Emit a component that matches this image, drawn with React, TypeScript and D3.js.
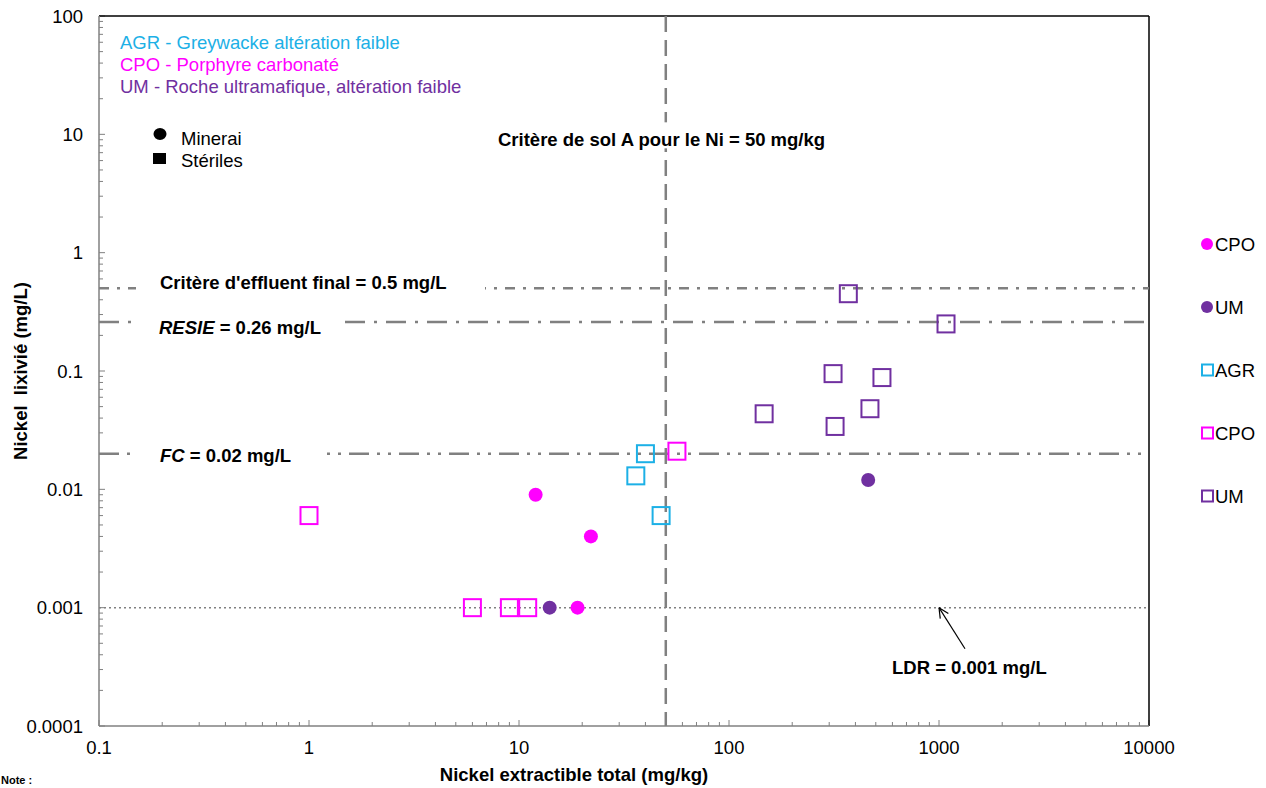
import React, { useRef, useEffect } from 'react';
import * as d3 from 'd3';

// Données
const xTickValues = [0.1, 1, 10, 100, 1000, 10000];
const xTickLabels = ['0.1', '1', '10', '100', '1000', '10000'];
const yTickValues = [0.0001, 0.001, 0.01, 0.1, 1, 10, 100];
const yTickLabels = ['0.0001', '0.001', '0.01', '0.1', '1', '10', '100'];

// Minerai (cercles)
const cpoMineraiX = [12, 22, 19];
const cpoMineraiY = [0.009, 0.004, 0.001];
const umMineraiX = [14, 460];
const umMineraiY = [0.001, 0.012];

// Stériles (carrés)
const agrSterileX = [40, 36, 47.5];
const agrSterileY = [0.02, 0.013, 0.006];
const cpoSterileX = [56.5, 1, 6, 9, 11];
const cpoSterileY = [0.021, 0.006, 0.001, 0.001, 0.001];
const umSterileX = [370, 1080, 313, 535, 147, 469, 320];
const umSterileY = [0.45, 0.25, 0.095, 0.088, 0.0435, 0.048, 0.034];

const legendNames = ['CPO', 'UM', 'AGR', 'CPO', 'UM'];
const legendShapes = ['circle', 'circle', 'square', 'square', 'square'];

const C_AGR = '#1CB0E6';
const C_CPO = '#FF00FF';
const C_UM = '#7030A0';
const legendColors = [C_CPO, C_UM, C_AGR, C_CPO, C_UM];

const FONT = "Arial, 'Liberation Sans', sans-serif";
const FS = 18.5;

const draw = (svgRef) => {
     const svg = d3.select(svgRef.current);
     svg.selectAll('*').remove();

     const margin = { left: 99, right: 1149, top: 16, bottom: 726 };

     const xScale = d3.scaleLog().domain([0.1, 10000]).range([margin.left, margin.right]);
     const yScale = d3.scaleLog().domain([0.0001, 100]).range([margin.bottom, margin.top]);

     const g = svg.append('g');

     // Ticks mineurs + majeurs (vers l'intérieur)
     const minorX = [];
     for (let e = -1; e < 4; e++) for (let k = 2; k < 10; k++) minorX.push(k * Math.pow(10, e));
     const minorY = [];
     for (let e = -4; e < 2; e++) for (let k = 2; k < 10; k++) minorY.push(k * Math.pow(10, e));

     g.selectAll('.mx').data(minorX).enter().append('line')
          .attr('x1', d => xScale(d)).attr('x2', d => xScale(d))
          .attr('y1', margin.bottom).attr('y2', margin.bottom - 4)
          .attr('stroke', '#808080').attr('stroke-width', 1);
     g.selectAll('.Mx').data(xTickValues).enter().append('line')
          .attr('x1', d => xScale(d)).attr('x2', d => xScale(d))
          .attr('y1', margin.bottom).attr('y2', margin.bottom - 6)
          .attr('stroke', '#808080').attr('stroke-width', 1);
     g.selectAll('.my').data(minorY).enter().append('line')
          .attr('y1', d => yScale(d)).attr('y2', d => yScale(d))
          .attr('x1', margin.left).attr('x2', margin.left + 4)
          .attr('stroke', '#808080').attr('stroke-width', 1);
     g.selectAll('.My').data(yTickValues).enter().append('line')
          .attr('y1', d => yScale(d)).attr('y2', d => yScale(d))
          .attr('x1', margin.left).attr('x2', margin.left + 6)
          .attr('stroke', '#808080').attr('stroke-width', 1);

     // Cadre
     g.append('line').attr('x1', margin.left).attr('x2', margin.right)
          .attr('y1', margin.top).attr('y2', margin.top).attr('stroke', '#000').attr('stroke-width', 1.5);
     g.append('line').attr('x1', margin.right).attr('x2', margin.right)
          .attr('y1', margin.top).attr('y2', margin.bottom).attr('stroke', '#000').attr('stroke-width', 1.5);
     g.append('line').attr('x1', margin.left).attr('x2', margin.left)
          .attr('y1', margin.top).attr('y2', margin.bottom).attr('stroke', '#808080').attr('stroke-width', 1.5);
     g.append('line').attr('x1', margin.left).attr('x2', margin.right)
          .attr('y1', margin.bottom).attr('y2', margin.bottom).attr('stroke', '#808080').attr('stroke-width', 1.5);

     // Etiquettes des axes
     g.selectAll('.xl').data(xTickValues).enter().append('text')
          .attr('x', d => xScale(d)).attr('y', margin.bottom + 28)
          .attr('text-anchor', 'middle').attr('font-family', FONT).attr('font-size', FS)
          .text((d, i) => xTickLabels[i]);
     g.selectAll('.yl').data(yTickValues).enter().append('text')
          .attr('x', margin.left - 16).attr('y', d => yScale(d) + 6.5)
          .attr('text-anchor', 'end').attr('font-family', FONT).attr('font-size', FS)
          .text((d, i) => yTickLabels[i]);

     // Lignes de référence
     const hLine = (v, dash) => g.append('line')
          .attr('x1', margin.left).attr('x2', margin.right)
          .attr('y1', yScale(v)).attr('y2', yScale(v))
          .attr('stroke', '#808080').attr('stroke-width', 2.5)
          .attr('stroke-dasharray', dash);
     hLine(0.5, '10,8,3,8');
     hLine(0.26, '20,9,3,9');
     hLine(0.02, '20,8,3,8,3,8');
     hLine(0.001, '2,3').attr('stroke-width', 1.5);

     g.append('line')
          .attr('x1', xScale(50)).attr('x2', xScale(50))
          .attr('y1', margin.top).attr('y2', margin.bottom)
          .attr('stroke', '#808080').attr('stroke-width', 2.5)
          .attr('stroke-dasharray', '16,8');

     // Textes sur fond blanc
     const boxLabel = (x, y, w, h) => g.append('rect')
          .attr('x', x).attr('y', y).attr('width', w).attr('height', h).attr('fill', '#fff');
     boxLabel(136, yScale(0.5) - 14, 349, 26);
     boxLabel(136, yScale(0.26) - 10, 204, 22);
     boxLabel(136, yScale(0.02) - 10, 189, 22);
     boxLabel(494, yScale(10) - 12, 344, 26);

     const label = (x, y) => g.append('text').attr('x', x).attr('y', y)
          .attr('font-family', FONT).attr('font-size', FS).attr('font-weight', 'bold').attr('fill', '#000');

     label(160, 288.5).text("Critère d'effluent final = 0.5 mg/L");
     const t1 = label(159, 333.5);
     t1.append('tspan').attr('font-style', 'italic').text('RESIE');
     t1.append('tspan').text(' = 0.26 mg/L');
     const t2 = label(160, 461.5);
     t2.append('tspan').attr('font-style', 'italic').text('FC');
     t2.append('tspan').text(' = 0.02 mg/L');
     label(498, 145.5).text('Critère de sol A pour le Ni = 50 mg/kg');
     label(892, 673.5).text('LDR = 0.001 mg/L');

     // Flèche LDR
     const ax = xScale(1000), ay = yScale(0.001);
     const bx = xScale(1330), by = yScale(0.00045);
     g.append('line').attr('x1', bx).attr('y1', by).attr('x2', ax).attr('y2', ay)
          .attr('stroke', '#000').attr('stroke-width', 1.2);
     const ang = Math.atan2(by - ay, bx - ax);
     [0.45, -0.45].forEach(da => {
          g.append('line').attr('x1', ax).attr('y1', ay)
               .attr('x2', ax + 11 * Math.cos(ang + da)).attr('y2', ay + 11 * Math.sin(ang + da))
               .attr('stroke', '#000').attr('stroke-width', 1.2);
     });

     // Points
     const circles = (xs, ys, color) => g.selectAll(null).data(xs).enter().append('circle')
          .attr('cx', d => xScale(d)).attr('cy', (d, i) => yScale(ys[i]))
          .attr('r', 7).attr('fill', color);
     const squares = (xs, ys, color) => g.selectAll(null).data(xs).enter().append('rect')
          .attr('x', d => xScale(d) - 8.5).attr('y', (d, i) => yScale(ys[i]) - 8.5)
          .attr('width', 17).attr('height', 17)
          .attr('fill', 'none').attr('stroke', color).attr('stroke-width', 2);

     squares(agrSterileX, agrSterileY, C_AGR);
     squares(cpoSterileX, cpoSterileY, C_CPO);
     squares(umSterileX, umSterileY, C_UM);
     circles(cpoMineraiX, cpoMineraiY, C_CPO);
     circles(umMineraiX, umMineraiY, C_UM);

     // Légende en haut à gauche
     const lg = [
          ['AGR - Greywacke altération faible', C_AGR],
          ['CPO - Porphyre carbonaté', C_CPO],
          ['UM - Roche ultramafique, altération faible', C_UM],
     ];
     lg.forEach(([t, c], i) => {
          g.append('text').attr('x', 120).attr('y', 48.5 + i * 22)
               .attr('font-family', FONT).attr('font-size', FS).attr('fill', c).text(t);
     });
     g.append('ellipse').attr('cx', 160).attr('cy', 134).attr('rx', 6.5).attr('ry', 6).attr('fill', '#000');
     g.append('rect').attr('x', 153).attr('y', 153).attr('width', 13).attr('height', 11).attr('fill', '#000');
     g.append('text').attr('x', 181).attr('y', 145).attr('font-family', FONT).attr('font-size', FS).text('Minerai');
     g.append('text').attr('x', 181).attr('y', 166.5).attr('font-family', FONT).attr('font-size', FS).text('Stériles');

     // Légende à droite
     legendNames.forEach((n, i) => {
          const cy = 244 + i * 63;
          if (legendShapes[i] === 'circle') {
               g.append('circle').attr('cx', 1207).attr('cy', cy).attr('r', 6).attr('fill', legendColors[i]);
          } else {
               g.append('rect').attr('x', 1202).attr('y', cy - 5.5).attr('width', 11).attr('height', 11)
                    .attr('fill', 'none').attr('stroke', legendColors[i]).attr('stroke-width', 2);
          }
          g.append('text').attr('x', 1215).attr('y', cy + 6.5)
               .attr('font-family', FONT).attr('font-size', FS).text(n);
     });

     // Titres des axes
     g.append('text').attr('x', 574).attr('y', 781).attr('text-anchor', 'middle')
          .attr('font-family', FONT).attr('font-size', FS).attr('font-weight', 'bold')
          .text('Nickel extractible total (mg/kg)');
     g.append('text').attr('transform', 'translate(27,371) rotate(-90)').attr('text-anchor', 'middle')
          .attr('font-family', FONT).attr('font-size', FS).attr('font-weight', 'bold')
          .attr('xml:space', 'preserve')
          .text('Nickel  lixivié (mg/L)');
     g.append('text').attr('x', 1).attr('y', 784)
          .attr('font-family', FONT).attr('font-size', 11).attr('font-weight', 'bold')
          .text('Note :');
};

export default function App() {
     const svgRef = useRef(null);

     useEffect(() => {
          draw(svgRef);
     }, []);

     return (
          <svg ref={svgRef} width={1266} height={788}
               style={{ position: 'absolute', left: 0, top: 0, background: '#fff' }} />
     );
}
